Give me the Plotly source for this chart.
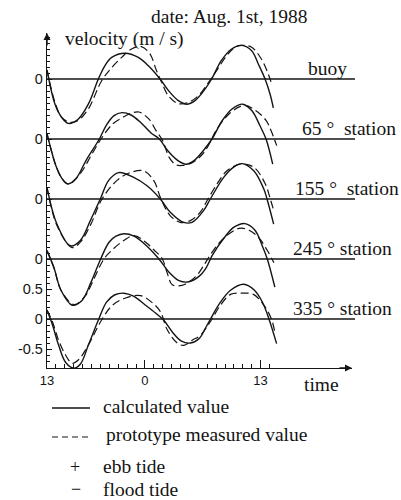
import plotly.graph_objects as go

# ---------------- data ----------------
# time axis in hours: 13 = 13:00 (Jul 31), 24 = 0:00, 37 = 13:00 (Aug 1)
x_tick_vals = [13, 24, 37]
x_tick_text = ["13", "0", "13"]

station_names = ["buoy", "65 °  station", "155 °  station", "245 ° station", "335 ° station"]
station_offsets = [4, 3, 2, 1, 0]

y_tick_vals = [-0.5, 0, 0.5, 1, 2, 3, 4]
y_tick_text = ["-0.5", "0", "0.5", "0", "0", "0", "0"]

# buoy
buoy_calc_t = [13.0, 13.9, 14.65, 15.4, 16.5, 17.64, 18.77, 19.5, 20.27, 21.76, 23.26, 24.39, 25.7,
               26.63, 27.76, 28.69, 29.63, 30.75, 31.5, 32.6, 33.75, 34.87, 36.0, 36.74, 37.5, 38.06, 38.43]
buoy_calc_v = [0.15, -0.42, -0.64, -0.74, -0.67, -0.42, 0.0, 0.22, 0.36, 0.43, 0.36, 0.22, 0.0,
               -0.19, -0.36, -0.42, -0.36, -0.17, 0.0, 0.31, 0.5, 0.56, 0.47, 0.25, 0.0, -0.25, -0.48]
buoy_meas_t = [13.0, 13.9, 14.65, 15.58, 16.5, 17.64, 19.14, 20.27, 21.39, 22.5, 23.6, 24.57, 25.3,
               25.9, 26.63, 27.76, 28.88, 30.0, 31.13, 32.06, 33.19, 34.12, 34.87, 36.0, 37.1, 37.87, 38.3]
buoy_meas_v = [0.15, -0.39, -0.64, -0.72, -0.69, -0.5, -0.03, 0.19, 0.36, 0.5, 0.54, 0.42, 0.14,
               -0.06, -0.28, -0.41, -0.39, -0.28, -0.06, 0.14, 0.39, 0.53, 0.56, 0.53, 0.33, 0.08, -0.11]

# 65 deg station
s65_calc_t = [13.0, 13.34, 14.01, 14.69, 15.33, 16.26, 17.38, 18.88, 19.63, 20.53, 21.43, 22.44, 23.56,
              24.69, 25.62, 26.6, 27.72, 28.62, 29.52, 30.53, 31.54, 32.66, 33.79, 34.99, 36.03, 36.93,
              37.61, 38.36]
s65_calc_v = [0.09, -0.11, -0.45, -0.66, -0.75, -0.66, -0.36, 0.0, 0.22, 0.39, 0.44, 0.4, 0.27,
              0.1, 0.0, -0.2, -0.36, -0.42, -0.36, -0.2, 0.0, 0.3, 0.5, 0.58, 0.47, 0.22,
              0.0, -0.42]
s65_meas_t = [13.0, 13.34, 14.01, 14.69, 15.47, 16.82, 17.94, 19.07, 20.38, 21.51, 22.44, 23.34, 24.46,
              25.25, 26.0, 26.74, 27.49, 28.25, 29.37, 30.49, 31.24, 31.99, 33.48, 35.17, 36.48, 37.61,
              38.17, 38.81]
s65_meas_v = [0.09, -0.11, -0.45, -0.66, -0.75, -0.56, -0.28, 0.0, 0.25, 0.36, 0.43, 0.45, 0.33,
              0.14, -0.03, -0.31, -0.43, -0.44, -0.39, -0.25, -0.08, 0.14, 0.42, 0.56, 0.47, 0.31,
              0.14, -0.11]

# 155 deg station
s155_calc_t = [13.0, 14.12, 15.62, 16.74, 17.87, 18.99, 19.93, 21.06, 22.74, 24.24, 25.73, 26.85, 28.36,
               29.29, 30.61, 31.35, 32.85, 33.97, 34.91, 36.23, 37.35, 37.72, 38.47]
s155_calc_v = [0.19, -0.42, -0.78, -0.69, -0.36, 0.0, 0.31, 0.44, 0.36, 0.22, 0.0, -0.22, -0.39,
               -0.39, -0.19, 0.0, 0.36, 0.53, 0.59, 0.47, 0.17, 0.0, -0.42]
s155_meas_t = [13.0, 14.12, 15.81, 16.74, 17.87, 19.18, 20.87, 22.36, 23.87, 24.99, 25.81, 26.85, 27.98,
               29.1, 30.22, 30.98, 32.1, 33.22, 34.72, 36.23, 37.53, 38.09, 38.47]
s155_meas_v = [0.19, -0.44, -0.81, -0.72, -0.44, 0.0, 0.31, 0.44, 0.47, 0.31, 0.0, -0.28, -0.39,
               -0.36, -0.22, -0.03, 0.25, 0.47, 0.58, 0.53, 0.25, 0.0, -0.19]

# 245 deg station
s245_calc_t = [13.0, 13.79, 14.57, 15.84, 16.93, 17.94, 19.03, 19.97, 20.75, 21.65, 22.78, 24.12, 25.58,
               26.71, 27.83, 28.96, 30.08, 30.83, 31.57, 32.89, 34.01, 35.25, 36.37, 37.16, 37.75, 38.6]
s245_calc_v = [0.14, -0.15, -0.52, -0.77, -0.69, -0.39, 0.0, 0.28, 0.38, 0.42, 0.38, 0.23, 0.0,
               -0.22, -0.36, -0.38, -0.29, -0.16, 0.06, 0.35, 0.53, 0.59, 0.48, 0.23, 0.0, -0.47]
s245_meas_t = [13.0, 13.79, 14.57, 16.03, 17.27, 18.28, 19.4, 20.53, 21.65, 22.78, 24.09, 25.03, 25.96,
               26.48, 27.08, 28.17, 28.96, 29.85, 30.64, 31.54, 32.89, 34.57, 35.7, 36.82, 37.72, 38.28, 38.5]
s245_meas_v = [0.14, -0.15, -0.52, -0.76, -0.62, -0.33, 0.0, 0.18, 0.31, 0.39, 0.28, 0.15, 0.0,
               -0.22, -0.43, -0.44, -0.38, -0.27, -0.1, 0.11, 0.35, 0.51, 0.48, 0.35, 0.15, 0.0, -0.06]

# 335 deg station
s335_calc_t = [13.0, 13.62, 14.29, 15.08, 16.01, 16.76, 17.66, 18.82, 19.69, 20.58, 21.63, 22.72, 24.07,
               25.19, 26.12, 27.1, 28.11, 29.12, 30.13, 30.81, 31.37, 32.49, 33.62, 35.11, 36.31, 37.21,
               37.92, 38.8]
s335_calc_v = [0.15, -0.1, -0.43, -0.72, -0.82, -0.75, -0.43, 0.0, 0.28, 0.4, 0.43, 0.38, 0.23,
               0.1, -0.02, -0.22, -0.37, -0.4, -0.32, -0.15, 0.0, 0.28, 0.48, 0.58, 0.48, 0.28,
               0.01, -0.41]
s335_meas_t = [13.0, 13.62, 14.29, 15.08, 15.83, 16.54, 17.66, 19.2, 20.36, 21.82, 23.51, 24.85, 25.75,
               26.51, 27.63, 28.37, 29.35, 30.25, 31.37, 32.49, 33.62, 34.97, 36.2, 37.36, 38.19, 38.6]
s335_meas_v = [0.15, -0.05, -0.35, -0.6, -0.74, -0.68, -0.43, 0.0, 0.23, 0.35, 0.39, 0.27, 0.12,
               -0.18, -0.4, -0.44, -0.35, -0.27, -0.04, 0.23, 0.41, 0.43, 0.41, 0.23, 0.01, -0.22]

calc_t = [buoy_calc_t, s65_calc_t, s155_calc_t, s245_calc_t, s335_calc_t]
calc_v = [buoy_calc_v, s65_calc_v, s155_calc_v, s245_calc_v, s335_calc_v]
meas_t = [buoy_meas_t, s65_meas_t, s155_meas_t, s245_meas_t, s335_meas_t]
meas_v = [buoy_meas_v, s65_meas_v, s155_meas_v, s245_meas_v, s335_meas_v]

# ---------------- layout geometry ----------------
W, H = 401, 500
ML, MR, MT, MB = 47, 49, 33, 132
PW, PH = W - ML - MR, H - MT - MB
X0 = 13.0
X1 = X0 + PW / 8.9
Y0 = -(368 - 319) / 60.0
Y1 = Y0 + PH / 60.0

INK = "#141414"
SERIF = "Liberation Serif"
SANS = "Liberation Sans"
DASH = "8px,4px"
FS = 19.5


def px(x):
    return (x - ML) / PW


def py(y):
    return (H - MB - y) / PH


fig = go.Figure()

for name, off, ct, cv, mt, mv in zip(station_names, station_offsets, calc_t, calc_v, meas_t, meas_v):
    fig.add_trace(go.Scatter(x=ct, y=[v + off for v in cv], mode="lines", line_shape="spline",
                             line=dict(color=INK, width=1.4), showlegend=False, hoverinfo="skip"))
    fig.add_trace(go.Scatter(x=mt, y=[v + off for v in mv], mode="lines", line_shape="spline",
                             line=dict(color=INK, width=1.2, dash=DASH), showlegend=False, hoverinfo="skip"))
    # zero line for each station
    fig.add_shape(type="line", xref="paper", yref="y", x0=0, x1=px(355), y0=off, y1=off,
                  line=dict(color=INK, width=1.4))

label_x = {"buoy": 306, "65 °  station": 300, "155 °  station": 293,
           "245 ° station": 291, "335 ° station": 291}
for name, off in zip(station_names, station_offsets):
    fig.add_annotation(x=px(label_x[name]), xref="paper", y=off, yref="y", text=name,
                       showarrow=False, xanchor="left", yanchor="bottom", yshift=-2,
                       font=dict(family=SERIF, size=FS, color=INK))

# titles
fig.add_annotation(x=px(229), y=py(17), xref="paper", yref="paper", text="date: Aug. 1st, 1988",
                   showarrow=False, xanchor="center", yanchor="middle",
                   font=dict(family=SERIF, size=FS, color=INK))
fig.add_annotation(x=px(63), y=py(39), xref="paper", yref="paper", text="velocity (m / s)",
                   showarrow=False, xanchor="left", yanchor="middle",
                   font=dict(family=SERIF, size=FS, color=INK))
fig.add_annotation(x=px(302), y=py(384), xref="paper", yref="paper", text="time",
                   showarrow=False, xanchor="left", yanchor="middle",
                   font=dict(family=SERIF, size=FS, color=INK))

# axis arrows
fig.add_annotation(x=0, y=1, xref="paper", yref="paper", ax=0, ay=14, text="", showarrow=True,
                   arrowhead=2, arrowsize=1, arrowwidth=1.4, arrowcolor=INK)
fig.add_annotation(x=1, y=0, xref="paper", yref="paper", ax=-14, ay=0, text="", showarrow=True,
                   arrowhead=2, arrowsize=1, arrowwidth=1.4, arrowcolor=INK)

# legend-like key
fig.add_shape(type="line", xref="paper", yref="paper", x0=px(52), x1=px(90), y0=py(408), y1=py(408),
              line=dict(color=INK, width=1.3))
fig.add_shape(type="line", xref="paper", yref="paper", x0=px(52), x1=px(92), y0=py(437), y1=py(437),
              line=dict(color=INK, width=1.2, dash="6px,4px"))
key_items = [("calculated value", 101, 406), ("prototype measured value", 104, 434),
             ("ebb tide", 101, 466), ("flood tide", 101, 489)]
for txt, kx, ky in key_items:
    fig.add_annotation(x=px(kx), y=py(ky), xref="paper", yref="paper", text=txt, showarrow=False,
                       xanchor="left", yanchor="middle", font=dict(family=SERIF, size=FS, color=INK))
for sym, kx, ky in [("+", 75, 467), ("−", 76, 489)]:
    fig.add_annotation(x=px(kx), y=py(ky), xref="paper", yref="paper", text=sym, showarrow=False,
                       xanchor="center", yanchor="middle", font=dict(family=SERIF, size=18, color=INK))

fig.update_layout(
    width=W, height=H, margin=dict(l=ML, r=MR, t=MT, b=MB),
    paper_bgcolor="white", plot_bgcolor="white", showlegend=False,
    xaxis=dict(range=[X0, X1], showgrid=False, zeroline=False, showline=True, linecolor=INK, linewidth=1.4,
               tickmode="array", tickvals=x_tick_vals, ticktext=x_tick_text, ticks="inside", ticklen=8,
               tickwidth=1.2, tickcolor=INK, tickfont=dict(family=SANS, size=13, color=INK),
               minor=dict(tickmode="array", tickvals=list(range(14, 39)), ticks="inside", ticklen=4,
                          tickwidth=1, tickcolor=INK, showgrid=False)),
    yaxis=dict(range=[Y0, Y1], showgrid=False, zeroline=False, showline=True, linecolor=INK, linewidth=1.4,
               tickmode="array", tickvals=y_tick_vals, ticktext=y_tick_text, ticks="inside", ticklen=5,
               tickwidth=1.2, tickcolor=INK, tickfont=dict(family=SANS, size=14.5, color=INK),
               minor=dict(dtick=0.1, tick0=0, ticks="inside", ticklen=3, tickwidth=1, tickcolor=INK,
                          showgrid=False)),
)

fig.write_html("out.html")
